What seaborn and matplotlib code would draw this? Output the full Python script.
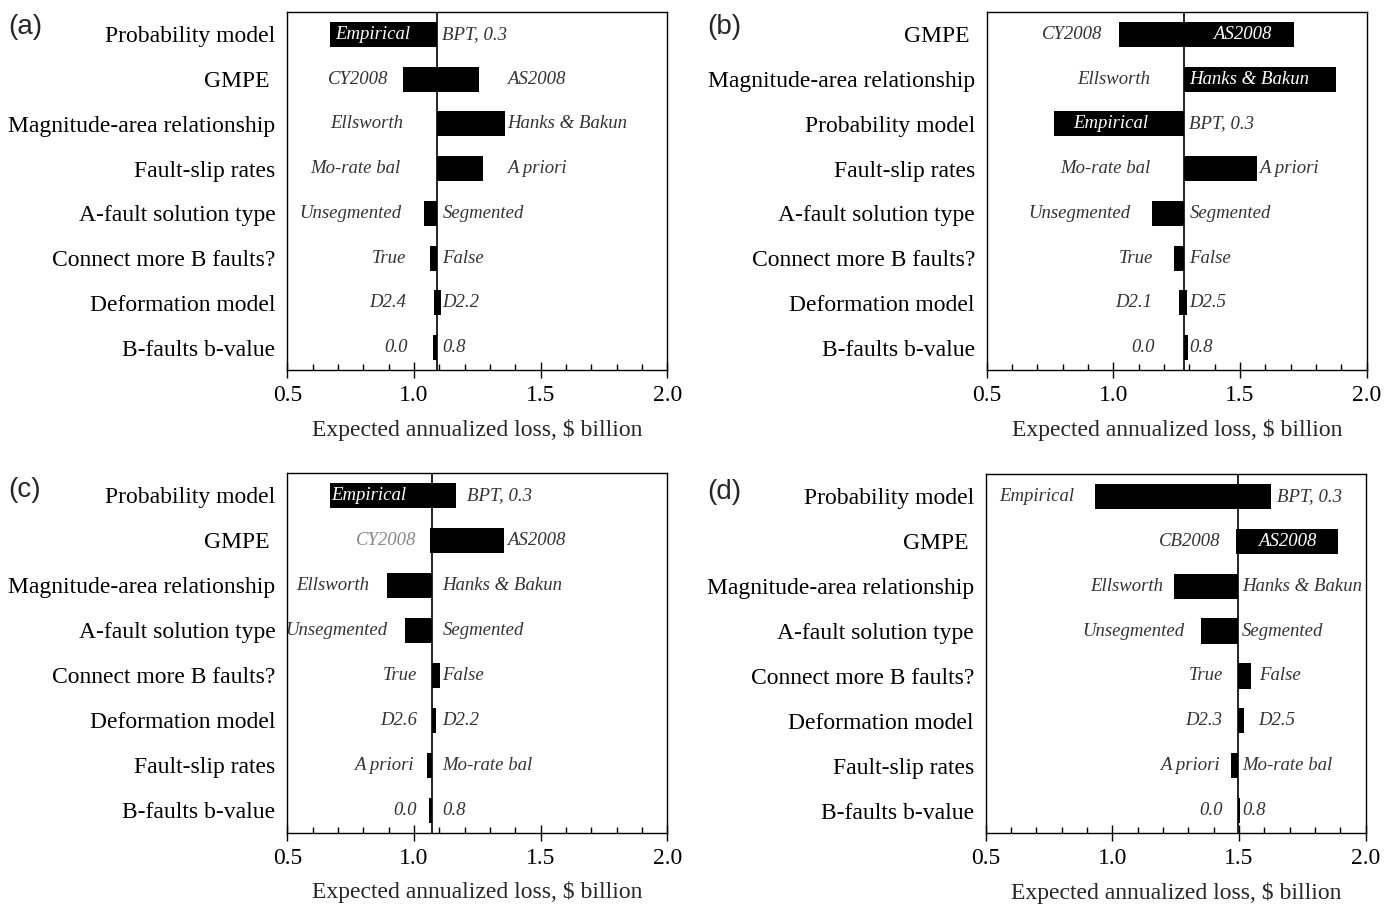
import numpy as np
import pandas as pd
import matplotlib
matplotlib.use('Agg')
import matplotlib.pyplot as plt
import seaborn as sns
from matplotlib.ticker import MultipleLocator

# ---- data (loss in $ billion) ----
# (a)
factors_a = ['Probability model', 'GMPE ', 'Magnitude-area relationship', 'Fault-slip rates',
             'A-fault solution type', 'Connect more B faults?', 'Deformation model', 'B-faults b-value']
left_names_a = ['Empirical', 'CY2008', 'Ellsworth', 'Mo-rate bal', 'Unsegmented', 'True', 'D2.4', '0.0']
right_names_a = ['BPT, 0.3', 'AS2008', 'Hanks & Bakun', 'A priori', 'Segmented', 'False', 'D2.2', '0.8']
bar_left_a = [0.670, 0.956, 1.090, 1.090, 1.040, 1.063, 1.079, 1.076]
bar_right_a = [1.090, 1.258, 1.359, 1.274, 1.090, 1.090, 1.107, 1.092]
base_a = 1.09

# (b)
factors_b = ['GMPE ', 'Magnitude-area relationship', 'Probability model', 'Fault-slip rates',
             'A-fault solution type', 'Connect more B faults?', 'Deformation model', 'B-faults b-value']
left_names_b = ['CY2008', 'Ellsworth', 'Empirical', 'Mo-rate bal', 'Unsegmented', 'True', 'D2.1', '0.0']
right_names_b = ['AS2008', 'Hanks & Bakun', 'BPT, 0.3', 'A priori', 'Segmented', 'False', 'D2.5', '0.8']
bar_left_b = [1.022, 1.280, 0.766, 1.280, 1.153, 1.240, 1.261, 1.280]
bar_right_b = [1.713, 1.879, 1.280, 1.566, 1.280, 1.280, 1.290, 1.295]
base_b = 1.28

# (c)
factors_c = ['Probability model', 'GMPE ', 'Magnitude-area relationship', 'A-fault solution type',
             'Connect more B faults?', 'Deformation model', 'Fault-slip rates', 'B-faults b-value']
left_names_c = ['Empirical', 'CY2008', 'Ellsworth', 'Unsegmented', 'True', 'D2.6', 'A priori', '0.0']
right_names_c = ['BPT, 0.3', 'AS2008', 'Hanks & Bakun', 'Segmented', 'False', 'D2.2', 'Mo-rate bal', '0.8']
bar_left_c = [0.669, 1.063, 0.895, 0.966, 1.070, 1.070, 1.050, 1.061]
bar_right_c = [1.166, 1.357, 1.070, 1.070, 1.102, 1.086, 1.070, 1.071]
base_c = 1.07

# (d)
factors_d = ['Probability model', 'GMPE ', 'Magnitude-area relationship', 'A-fault solution type',
             'Connect more B faults?', 'Deformation model', 'Fault-slip rates', 'B-faults b-value']
left_names_d = ['Empirical', 'CB2008', 'Ellsworth', 'Unsegmented', 'True', 'D2.3', 'A priori', '0.0']
right_names_d = ['BPT, 0.3', 'AS2008', 'Hanks & Bakun', 'Segmented', 'False', 'D2.5', 'Mo-rate bal', '0.8']
bar_left_d = [0.930, 1.488, 1.243, 1.349, 1.495, 1.495, 1.468, 1.495]
bar_right_d = [1.626, 1.890, 1.495, 1.495, 1.546, 1.518, 1.495, 1.504]
base_d = 1.495

# ---- layout: where the branch labels sit (data x), which ones are white / grey ----
text_left_x = {
    'a': [0.985, 0.899, 0.958, 0.948, 0.952, 0.971, 0.971, 0.975],
    'b': [0.958, 1.147, 1.138, 1.145, 1.066, 1.158, 1.155, 1.162],
    'c': [0.971, 1.011, 0.824, 0.895, 1.011, 1.011, 0.997, 1.011],
    'd': [0.850, 1.428, 1.201, 1.283, 1.436, 1.432, 1.422, 1.436],
}
text_right_x = {
    'a': [1.112, 1.366, 1.369, 1.366, 1.112, 1.112, 1.112, 1.112],
    'b': [1.395, 1.300, 1.300, 1.576, 1.300, 1.300, 1.300, 1.300],
    'c': [1.211, 1.369, 1.112, 1.112, 1.112, 1.112, 1.112, 1.112],
    'd': [1.649, 1.576, 1.511, 1.511, 1.580, 1.576, 1.511, 1.511],
}
white_labels = {'a': [('L', 0)], 'b': [('L', 2), ('R', 0), ('R', 1)], 'c': [('L', 0)], 'd': [('R', 1)]}
grey_labels = {'c': [('L', 1)]}

# axes rectangles in figure fraction (left, bottom, width, height)
W, H = 1398, 907
boxes = {
    'a': (287.3 / W, 1 - 370 / H, 380 / W, 358 / H),
    'b': (986.7 / W, 1 - 370 / H, 380 / W, 358 / H),
    'c': (287.3 / W, 1 - 832.7 / H, 380 / W, 360 / H),
    'd': (985.7 / W, 1 - 833 / H, 380 / W, 359 / H),
}
letter_pos = {'a': (8 / W, 1 - 27 / H), 'b': (707 / W, 1 - 27 / H),
              'c': (8 / W, 1 - 490 / H), 'd': (707 / W, 1 - 492 / H)}

panels = {
    'a': (factors_a, left_names_a, right_names_a, bar_left_a, bar_right_a, base_a),
    'b': (factors_b, left_names_b, right_names_b, bar_left_b, bar_right_b, base_b),
    'c': (factors_c, left_names_c, right_names_c, bar_left_c, bar_right_c, base_c),
    'd': (factors_d, left_names_d, right_names_d, bar_left_d, bar_right_d, base_d),
}

sns.set_theme(style='ticks', rc={'axes.edgecolor': 'black', 'xtick.color': 'black',
                                 'ytick.color': 'black', 'axes.linewidth': 1.0})
plt.rcParams['font.family'] = ['Liberation Serif', 'DejaVu Serif']

fig = plt.figure(figsize=(W / 100, H / 100), dpi=100)

for key, (factors, lnames, rnames, bl, br, base) in panels.items():
    ax = fig.add_axes(boxes[key])
    df = pd.DataFrame({'factor': factors, 'span': np.array(br) - np.array(bl)})
    sns.barplot(data=df, x='span', y='factor', order=factors, color='black',
                saturation=1, width=0.56, errorbar=None, left=np.array(bl),
                linewidth=0, ax=ax)
    ax.axvline(base, color='black', lw=1.2, zorder=3)
    ax.set_xlim(0.5, 2.0)
    ax.xaxis.set_major_locator(MultipleLocator(0.5))
    ax.xaxis.set_minor_locator(MultipleLocator(0.1))
    ax.tick_params(axis='x', which='major', direction='inout', length=12, width=1,
                   labelsize=17, pad=5)
    ax.tick_params(axis='x', which='minor', direction='in', length=4, width=1)
    ax.tick_params(axis='y', length=0, labelsize=17, pad=8.5)
    ax.set_ylabel('')
    ax.set_xlabel(r'Expected annualized loss, \$ billion', fontsize=17, labelpad=9)
    for s in ax.spines.values():
        s.set_visible(True)
        s.set_color('black')
        s.set_linewidth(1.0)

    whites = white_labels.get(key, [])
    greys = grey_labels.get(key, [])
    for i in range(len(factors)):
        for side, names, xs, ha in (('L', lnames, text_left_x[key], 'right'),
                                    ('R', rnames, text_right_x[key], 'left')):
            col = '#333333'
            if (side, i) in whites:
                col = 'white'
            elif (side, i) in greys:
                col = '#888888'
            ax.text(xs[i], i, names[i], ha=ha, va='center', fontsize=13.5,
                    style='italic', color=col, zorder=4)

    fig.text(*letter_pos[key], f'({key})', ha='left', va='center', fontsize=20,
             family=['Liberation Sans', 'DejaVu Sans'])

fig.savefig('out.png', dpi=100)
